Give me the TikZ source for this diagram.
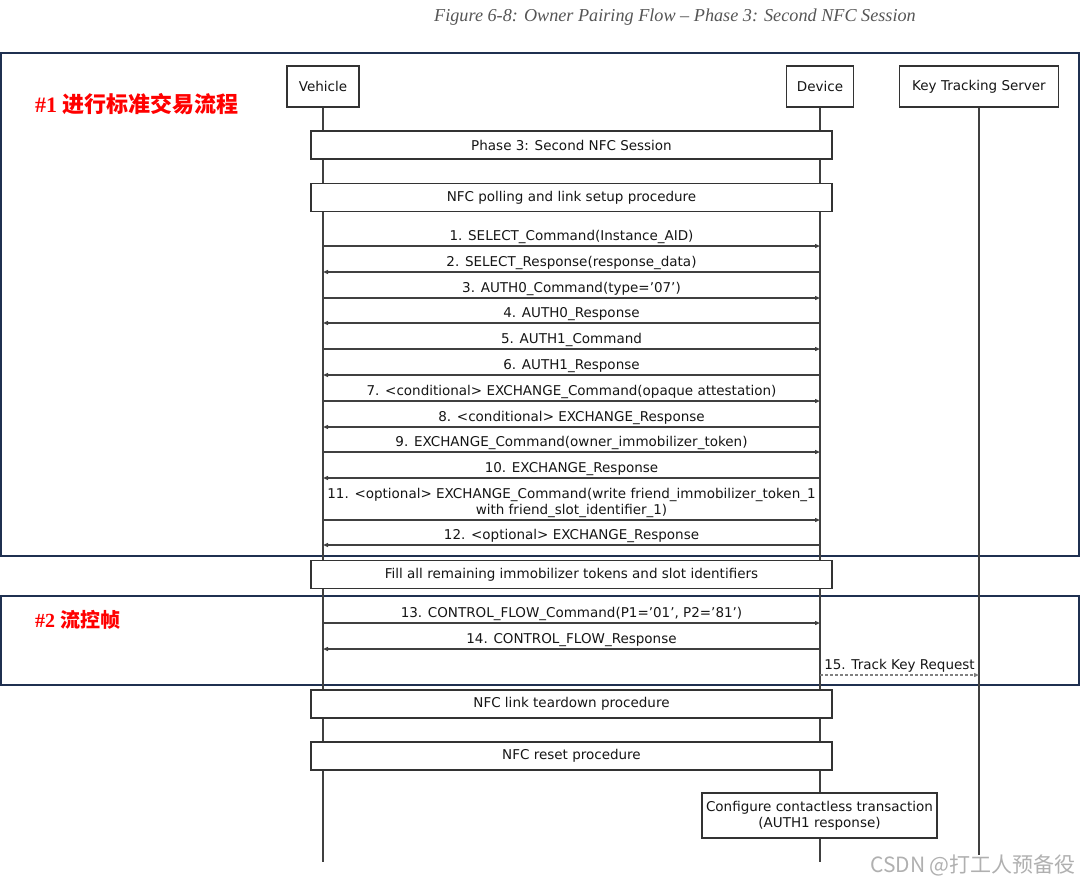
\documentclass[tikz,border=0pt]{standalone}
\usepackage{fontspec}
\setmainfont{DejaVu Sans}
\newfontfamily\titlefont{Liberation Serif}
\newfontfamily\cjk{Noto Sans CJK SC}
\usetikzlibrary{arrows.meta}
\definecolor{navy}{HTML}{1F3050}
\definecolor{boxgray}{HTML}{333333}
\definecolor{linegray}{HTML}{404040}
\definecolor{txt}{HTML}{151515}
\definecolor{titlegray}{HTML}{555555}
\definecolor{wmgray}{HTML}{B0B0B0}
\tikzset{
  actor/.style={draw=boxgray, line width=1.2pt, fill=white, minimum height=41pt, inner sep=0pt, font=\fontsize{13.5}{15}\selectfont, text=txt},
  bar/.style={draw=boxgray, line width=1.2pt, fill=white, minimum width=521pt, minimum height=28pt, inner sep=0pt, font=\fontsize{13.5}{15}\selectfont, text=txt},
  msg/.style={draw=linegray, line width=1.2pt, -{Triangle[length=5pt,width=4pt]}},
  tkmsg/.style={draw=gray, line width=1.3pt, dash pattern=on 3pt off 2pt, -{Triangle[length=5pt,width=4pt]}},
  lbl/.style={font=\fontsize{13.5}{16}\selectfont, text=txt, inner sep=0pt, align=center},
  life/.style={draw=linegray, line width=1.2pt},
  region/.style={draw=navy, line width=1.8pt, inner sep=0pt},
  redlbl/.style={text=red, inner sep=0pt, anchor=west}
}
\begin{document}
\begin{tikzpicture}[x=1pt,y=-1pt]
\useasboundingbox (0,0) rectangle (1080,884);
% title
\node (title) at (675,17) {\titlefont\itshape\fontsize{18.2}{20}\selectfont\color{titlegray}Figure 6-8: Owner Pairing Flow \textendash{} Phase 3: Second NFC Session};
% regions
\node[region, minimum width=1078pt, minimum height=503pt] (r1) at (540,304.5) {};
\node[region, minimum width=1078pt, minimum height=89pt] (r2) at (540,640.5) {};
\node[redlbl] (t1) at (35,104) {\titlefont\bfseries\fontsize{22}{24}\selectfont \#1 \cjk\bfseries 进行标准交易流程};
\node[redlbl] (t2) at (35,620) {\titlefont\bfseries\fontsize{20}{22}\selectfont \#2 \cjk\bfseries 流控帧};
% participants
\node[actor, minimum width=72pt] (veh) at (323,86.5) {Vehicle};
\node[actor, minimum width=67pt] (dev) at (820,86.5) {Device};
\node[actor, minimum width=159pt] (kts) at (979,86.5) {Key Tracking Server};
\coordinate (vehE) at (323,862);
\coordinate (devE) at (820,862);
\coordinate (ktsE) at (979,855);
\draw[life] (veh.south) -- (vehE);
\draw[life] (dev.south) -- (devE);
\draw[life] (kts.south) -- (ktsE);
% bars
\node[bar] (b1) at (571.5,145) {Phase 3: Second NFC Session};
\node[bar] (b2) at (571.5,197.5) {NFC polling and link setup procedure};
\node[bar] (b3) at (571.5,574.5) {Fill all remaining immobilizer tokens and slot identifiers};
\node[bar] (b4) at (571.5,704) {NFC link teardown procedure};
\node[bar] (b5) at (571.5,756) {NFC reset procedure};
\node[actor, minimum width=235pt, minimum height=45pt, align=center, font=\fontsize{13.5}{16}\selectfont] (cfg) at (819.5,815.5) {Configure contactless transaction\\(AUTH1 response)};
% message coordinates
\foreach \i/\y in {1/246,2/272,3/298,4/323,5/349,6/375,7/401,8/427,9/452,10/478,11/520,12/545,13/623,14/649,15/675}{
  \coordinate (v\i) at (323,\y);
  \coordinate (d\i) at (820,\y);
  \coordinate (k\i) at (979,\y);
}
\draw[msg] (v1) -- node[lbl, above=2pt] {1. SELECT\_Command(Instance\_AID)} (d1);
\draw[msg] (d2) -- node[lbl, above=2pt] {2. SELECT\_Response(response\_data)} (v2);
\draw[msg] (v3) -- node[lbl, above=2pt] {3. AUTH0\_Command(type='07')} (d3);
\draw[msg] (d4) -- node[lbl, above=2pt] {4. AUTH0\_Response} (v4);
\draw[msg] (v5) -- node[lbl, above=2pt] {5. AUTH1\_Command} (d5);
\draw[msg] (d6) -- node[lbl, above=2pt] {6. AUTH1\_Response} (v6);
\draw[msg] (v7) -- node[lbl, above=2pt] {7. <conditional> EXCHANGE\_Command(opaque attestation)} (d7);
\draw[msg] (d8) -- node[lbl, above=2pt] {8. <conditional> EXCHANGE\_Response} (v8);
\draw[msg] (v9) -- node[lbl, above=2pt] {9. EXCHANGE\_Command(owner\_immobilizer\_token)} (d9);
\draw[msg] (d10) -- node[lbl, above=2pt] {10. EXCHANGE\_Response} (v10);
\draw[msg] (v11) -- node[lbl, above=2pt] {11. <optional> EXCHANGE\_Command(write friend\_immobilizer\_token\_1\\with friend\_slot\_identifier\_1)} (d11);
\draw[msg] (d12) -- node[lbl, above=2pt] {12. <optional> EXCHANGE\_Response} (v12);
\draw[msg] (v13) -- node[lbl, above=2pt] {13. CONTROL\_FLOW\_Command(P1='01', P2='81')} (d13);
\draw[msg] (d14) -- node[lbl, above=2pt] {14. CONTROL\_FLOW\_Response} (v14);
\draw[tkmsg] (d15) -- node[lbl, above=2pt] {15. Track Key Request} (k15);
% watermark
\node[anchor=east, inner sep=0pt, text=wmgray] (wm) at (1076,865) {\cjk\fontsize{21}{23}\selectfont CSDN @打工人预备役};
\end{tikzpicture}
\end{document}
